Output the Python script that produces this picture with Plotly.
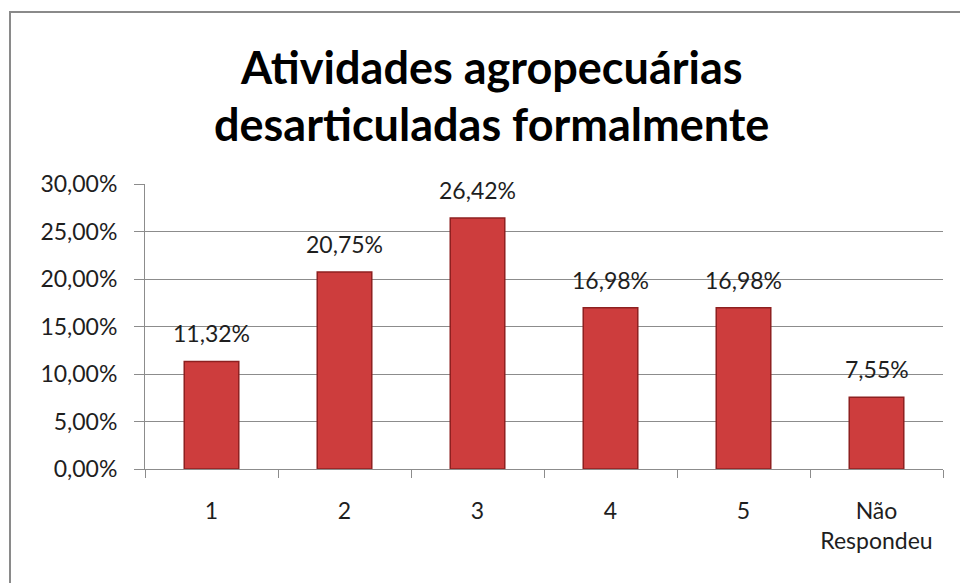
import plotly.graph_objects as go

categories = ["1", "2", "3", "4", "5", "Não<br>Respondeu"]
values = [0.1132, 0.2075, 0.2642, 0.1698, 0.1698, 0.0755]
title_lines = ["Atividades agropecuárias", "desarticuladas formalmente"]

FONT = "Lato, 'Open Sans', sans-serif"
OFF = 8  # default page body margin
W, H = 968 - OFF, 583 - OFF
L, R, T, B = 145 - OFF, 25, 184 - OFF, 114
TXT = "#1e1e1e"
FS = 23

pw = W - L - R
ph = H - T - B
PLOT_BOTTOM = OFF + H - B
def px_to_paper_x(px):
    return (px - OFF - L) / pw
def px_to_paper_y(py):
    return (PLOT_BOTTOM - py) / ph

fig = go.Figure()
fig.add_trace(go.Bar(
    x=categories, y=values, width=0.41,
    marker=dict(color="#cd3d3d", line=dict(color="#8e2020", width=1.5)),
    hoverinfo="skip",
))

for i, v in enumerate(values):
    fig.add_annotation(x=i, y=v, xref="x", yref="y", text=f"{v*100:.2f}%".replace(".", ","),
                       showarrow=False, yanchor="middle", yshift=28,
                       font=dict(family=FONT, size=FS, color=TXT))

for line, cy in zip(title_lines, [67, 124]):
    fig.add_annotation(x=px_to_paper_x(491), y=px_to_paper_y(cy), xref="paper", yref="paper",
                       text=f"<b>{line}</b>", showarrow=False, xanchor="center", yanchor="middle",
                       font=dict(family=FONT, size=45, color="#000"))

fig.add_shape(type="rect", xref="paper", yref="paper",
              x0=px_to_paper_x(10), x1=px_to_paper_x(985),
              y0=px_to_paper_y(600), y1=px_to_paper_y(12),
              line=dict(color="#8a8a8a", width=2), fillcolor="rgba(0,0,0,0)", layer="below")

fig.update_layout(
    width=W, height=H,
    margin=dict(l=L, r=R, t=T, b=B),
    paper_bgcolor="white", plot_bgcolor="white",
    separators=",.",
    showlegend=False,
    font=dict(family=FONT, size=FS, color=TXT),
)
fig.update_yaxes(range=[0, 0.30], dtick=0.05, tickformat=".2%",
                 showgrid=True, gridcolor="#8c8c8c", gridwidth=1,
                 showline=True, linecolor="#8c8c8c", linewidth=1,
                 ticks="outside", ticklen=10, tickcolor="#8c8c8c",
                 zeroline=False, ticklabelstandoff=12,
                 tickfont=dict(family=FONT, size=FS, color=TXT))
fig.update_xaxes(showline=True, linecolor="#8c8c8c", linewidth=1,
                 ticks="outside", ticklen=8, tickcolor="#8c8c8c",
                 tickson="boundaries", ticklabelstandoff=21,
                 tickfont=dict(family=FONT, size=FS, color=TXT))

fig.write_html("out.html")
